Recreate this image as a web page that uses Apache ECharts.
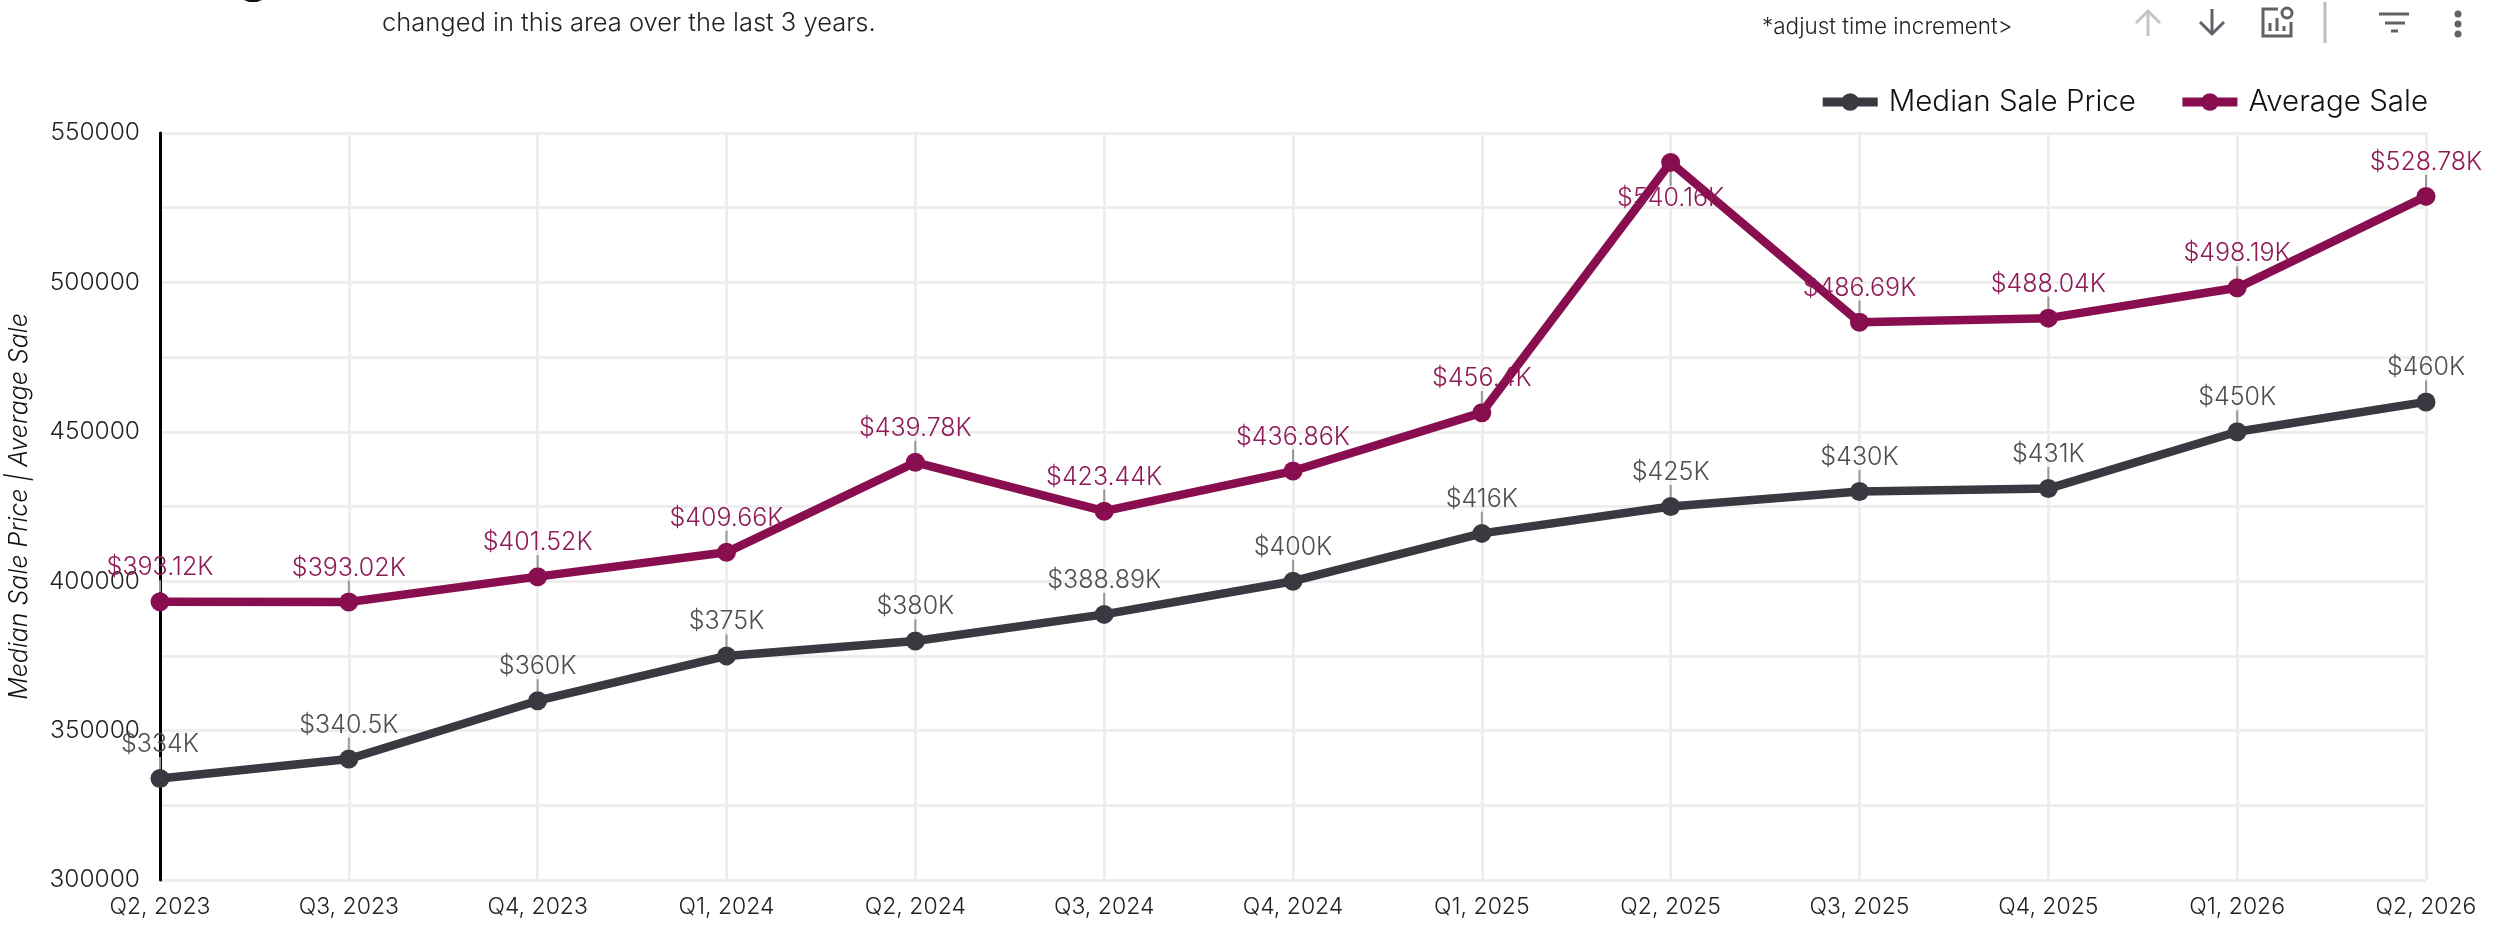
<!DOCTYPE html>
<html><head><meta charset="utf-8">
<style>html,body{margin:0;padding:0;background:#fff}#c{width:2519px;height:925px}</style>
<script src="https://cdn.jsdelivr.net/npm/echarts@6/dist/echarts.min.js"></script>
</head><body><div id="c"></div>
<script>
const categories=['Q2, 2023','Q3, 2023','Q4, 2023','Q1, 2024','Q2, 2024','Q3, 2024','Q4, 2024','Q1, 2025','Q2, 2025','Q3, 2025','Q4, 2025','Q1, 2026','Q2, 2026'];
const medianSalePrice=[334000,340500,360000,375000,380000,388890,400000,416000,425000,430000,431000,450000,460000];
const averageSale=[393120,393020,401520,409660,439780,423440,436860,456400,540160,486690,488040,498190,528780];
const averageLabelsBelow=[8];
const yTicks=[300000,350000,400000,450000,500000,550000];
const FONT='Inter';
const fmt=v=>'$'+(Math.round(v/10)/100)+'K';
const chart=echarts.init(document.getElementById('c'),null,{renderer:'canvas'});
function mk(name,data,color,labelColor,below){return{
  name,type:'line',
  data:data.map((v,i)=>below.includes(i)?{value:v,label:{position:'bottom'}}:v),
  symbol:'circle',symbolSize:19,
  lineStyle:{color,width:8.5},itemStyle:{color},
  label:{show:true,position:'top',distance:0,color:labelColor,fontFamily:FONT,fontWeight:300,fontSize:25,formatter:p=>fmt(p.value)},
  labelLayout:p=>({dy:below.includes(p.dataIndex)?14:-12}),
  labelLine:{show:true,lineStyle:{color:'#999',width:2}},
  emphasis:{disabled:true},animation:false,z:3};}
const GREY='#5f6368';
const stroke=(c)=>({stroke:c,lineWidth:3,fill:null,lineCap:'butt'});
chart.setOption({
  animation:false,
  legend:{top:82,right:86,itemWidth:55,itemHeight:22,itemGap:42,
    lineStyle:{width:9},
    textStyle:{fontFamily:FONT,fontWeight:300,fontSize:29.5,color:'#111',padding:[0,0,0,6]},
    data:['Median Sale Price','Average Sale']},
  grid:{left:160,right:93,top:133,bottom:45,containLabel:false,outerBoundsMode:'none'},
  xAxis:{type:'category',boundaryGap:false,data:categories,
    axisLine:{show:false},axisTick:{show:false},
    axisLabel:{fontFamily:FONT,fontWeight:300,fontSize:23,color:'#222',margin:16,interval:0},
    splitLine:{show:true,interval:0,lineStyle:{color:'#eeeeee',width:3}}},
  yAxis:{type:'value',min:yTicks[0],max:yTicks[yTicks.length-1],interval:50000,
    name:'Median Sale Price | Average Sale',nameLocation:'middle',nameGap:128,
    nameTextStyle:{fontFamily:FONT,fontStyle:'italic',fontWeight:300,fontSize:25,color:'#111'},
    axisLine:{show:true,lineStyle:{color:'#000',width:3}},axisTick:{show:false},
    axisLabel:{fontFamily:FONT,fontWeight:300,fontSize:24.5,color:'#222',margin:20,formatter:v=>String(v)},
    splitLine:{show:true,lineStyle:{color:'#eeeeee',width:3}},
    minorTick:{show:false,splitNumber:2},
    minorSplitLine:{show:true,lineStyle:{color:'#eeeeee',width:3}}},
  series:[mk('Median Sale Price',medianSalePrice,'#3a3840','#4f4d54',[]),mk('Average Sale',averageSale,'#880e4f','#8f1a57',averageLabelsBelow)],
  graphic:[
    {type:'text',x:382,y:23,style:{text:'changed in this area over the last 3 years.',fontFamily:FONT,fontWeight:300,fontSize:25.5,fill:'#222',verticalAlign:'middle'}},
    {type:'text',x:1762,y:27,style:{text:'*adjust time increment>',fontFamily:FONT,fontWeight:300,fontSize:22.5,fill:'#222',verticalAlign:'middle'}},
    {type:'polygon',shape:{points:[[244,0],[249,2],[257,2],[262,0]]},style:{fill:'#111'}},
    {type:'polyline',shape:{points:[[2148,36],[2148,11]]},style:stroke('#c4c4c4')},
    {type:'polyline',shape:{points:[[2136,23],[2148,11],[2160,23]]},style:stroke('#c4c4c4')},
    {type:'polyline',shape:{points:[[2212,9],[2212,34]]},style:stroke(GREY)},
    {type:'polyline',shape:{points:[[2200,22],[2212,34],[2224,22]]},style:stroke(GREY)},
    {type:'polyline',shape:{points:[[2278,9],[2263,9],[2263,36],[2291,36],[2291,22]]},style:stroke(GREY)},
    {type:'polyline',shape:{points:[[2270,31],[2270,23]]},style:stroke(GREY)},
    {type:'polyline',shape:{points:[[2277,31],[2277,18]]},style:stroke(GREY)},
    {type:'polyline',shape:{points:[[2284,31],[2284,26]]},style:stroke(GREY)},
    {type:'circle',shape:{cx:2287,cy:13,r:5},style:stroke(GREY)},
    {type:'polyline',shape:{points:[[2325,2],[2325,43]]},style:stroke('#bdbdbd')},
    {type:'polyline',shape:{points:[[2379,14],[2409,14]]},style:stroke(GREY)},
    {type:'polyline',shape:{points:[[2385,23],[2405,23]]},style:stroke(GREY)},
    {type:'polyline',shape:{points:[[2391,31],[2398,31]]},style:stroke(GREY)},
    {type:'circle',shape:{cx:2458,cy:14,r:3.5},style:{fill:GREY}},
    {type:'circle',shape:{cx:2458,cy:24,r:3.5},style:{fill:GREY}},
    {type:'circle',shape:{cx:2458,cy:34,r:3.5},style:{fill:GREY}}
  ]
});
</script></body></html>
